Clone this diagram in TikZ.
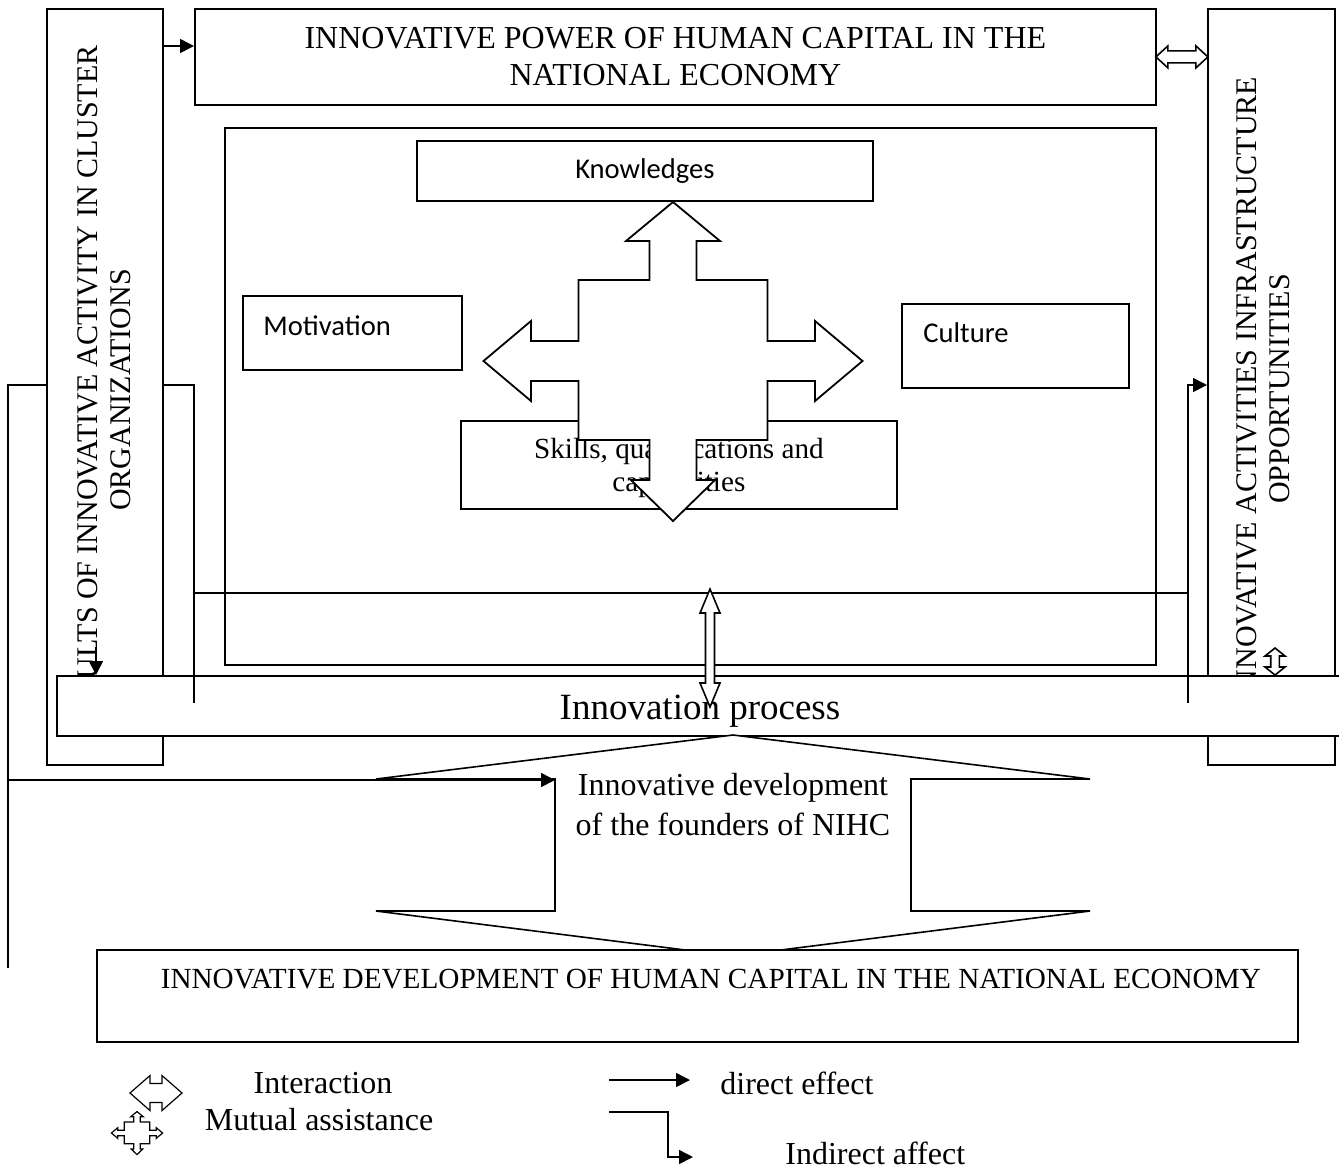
\documentclass[tikz,border=0pt]{standalone}
\usepackage{fontspec}
\setmainfont{Liberation Serif}
\newfontfamily\calibri{Carlito}
\usetikzlibrary{arrows.meta,calc}

\tikzset{
  box/.style={draw, fill=white, line width=0.9pt, inner sep=0pt},
  heading/.style={font=\fontsize{16}{18.5}\selectfont, align=center, inner sep=0pt},
  sidetext/.style={font=\fontsize{15}{16.5}\selectfont, align=center, rotate=90, inner sep=0pt},
  factor/.style={font=\calibri\fontsize{14.3}{17}\selectfont, inner sep=0pt},
  bodytext/.style={font=\fontsize{14.6}{16.5}\selectfont, align=center, inner sep=0pt},
  legendtext/.style={font=\fontsize{16}{19}\selectfont, inner sep=0pt},
  direct/.style={line width=0.8pt, -{Triangle[length=7pt,width=7pt]}},
  link/.style={line width=0.8pt},
  pics/fourway/.style={code={
    \draw[pic actions] (0,-159) -- (47,-120) -- (23.5,-120) -- (23.5,-81) -- (94.5,-81) -- (94.5,-20) -- (142,-20) -- (142,-40) -- (189.5,0) -- (142,40) -- (142,20) -- (94.5,20) -- (94.5,79) -- (23.5,79) -- (23.5,119) -- (42,119) -- (0,160) -- (-42,119) -- (-23.5,119) -- (-23.5,79) -- (-94.5,79) -- (-94.5,20) -- (-142,20) -- (-142,40) -- (-189.5,0) -- (-142,-40) -- (-142,-20) -- (-94.5,-20) -- (-94.5,-81) -- (-23.5,-81) -- (-23.5,-120) -- (-47,-120) -- cycle;
  }},
  pics/dblarr/.style n args={4}{code={
    \draw[pic actions] (-#1,0) -- (-#1+#4,-#2) -- (-#1+#4,-#3) -- (#1-#4,-#3) -- (#1-#4,-#2) -- (#1,0) -- (#1-#4,#2) -- (#1-#4,#3) -- (-#1+#4,#3) -- (-#1+#4,#2) -- cycle;
  }},
}

\begin{document}
\begin{tikzpicture}[x=0.5pt, y=-0.5pt]
  \useasboundingbox (0,0) rectangle (1339,1169);

  \node[box, minimum width=465.5pt, minimum height=268.5pt, anchor=north west] (frame) at (224,127) {};
  \node[box, factor, minimum width=228pt, minimum height=30pt, anchor=north west] (know) at (416,140) {Knowledges};
  \node[box, minimum width=109.5pt, minimum height=37pt, anchor=north west] (motiv) at (242,295) {};
  \node[factor, anchor=west] (motivtext) at ($(motiv.west)+(21,-7)$) {Motivation};
  \node[box, minimum width=113.5pt, minimum height=42pt, anchor=north west] (culture) at (901,303) {};
  \node[factor, anchor=west] (culturetext) at ($(culture.west)+(22,-13)$) {Culture};
  \node[box, minimum width=218pt, minimum height=44pt, anchor=north west] (skills) at (460,420) {};
  \node[bodytext] (skillstext) at ($(skills.center)+(0,3)$) {Skills, qualifications and\\capabilities};
  \pic[link, line width=0.9pt, fill=white] at (673,361) {fourway};

  \node[box, heading, minimum width=480.5pt, minimum height=48pt, anchor=north west] (power) at (194,8) {INNOVATIVE POWER OF HUMAN CAPITAL IN THE\\NATIONAL ECONOMY};
  \node[box, minimum width=58pt, minimum height=378pt, anchor=north west] (results) at (46,8) {};
  \node[sidetext] (resultstext) at (104,390) {RESULTS OF INNOVATIVE ACTIVITY IN CLUSTER\\ORGANIZATIONS};
  \node[box, minimum width=63.5pt, minimum height=378pt, anchor=north west] (infra) at (1207,8) {};
  \node[sidetext] (infratext) at (1263,389) {INNOVATIVE ACTIVITIES INFRASTRUCTURE\\OPPORTUNITIES};

  \draw[direct] ($(results.north east)+(0,38)$) coordinate (r1) -- (r1 -| power.west);
  \pic[link, fill=white] at ($(power.east)!0.5!(power.east -| infra.west)$) {dblarr={26}{11}{6}{12}};

  \node[box, minimum width=647pt, minimum height=30pt, anchor=north west] (process) at (56,675) {};
  \node[font=\fontsize{18.5}{21}\selectfont, inner sep=0pt] (processtext) at (700,711) {Innovation process};

  \coordinate (lefttap) at ($(results.north west)+(0,377)$);
  \coordinate (innertap) at ($(results.north east)+(0,377)$);
  \coordinate (righttap) at ($(infra.north west)+(0,377)$);
  \draw[link] (innertap) -| (194,703);
  \draw[link] (194,593) -- (1188,593);
  \draw[direct] (1188,703) |- (righttap);
  \pic[link, fill=white, rotate=90] at (710,648) {dblarr={59}{10}{4.5}{24}};
  \pic[link, fill=white, rotate=90] at (1275,661.5) {dblarr={13.5}{10}{4.3}{8}};
  \coordinate (c0) at (96,647);
  \draw[direct] (c0) -- (c0 |- process.north);

  \draw[link, fill=white] (733,735) -- (1090,779) -- (911,779) -- (911,911) -- (1090,911) -- (733,956) -- (376,911) -- (555,911) -- (555,780) coordinate (fnw) -- (555,779) -- (376,779) -- cycle;
  \node[heading, font=\fontsize{16}{20}\selectfont] (founders) at (733,805) {Innovative development\\of the founders of NIHC};
  \draw[link] (lefttap) -| (8,968) coordinate (leftend);
  \draw[direct] (leftend |- fnw) -- (fnw);

  \node[box, minimum width=600.5pt, minimum height=46pt, anchor=north west] (devel) at (96,949) {};
  \node[bodytext] (develtext) at ($(devel.center)+(13.5,-17)$) {INNOVATIVE DEVELOPMENT OF HUMAN CAPITAL IN THE NATIONAL ECONOMY};

  \pic[line width=0.6pt] at (156,1093) {dblarr={26}{17.5}{9.5}{20}};
  \pic[line width=0.6pt, scale=0.135] at (137,1133) {fourway};
  \node[legendtext] (interaction) at (323,1083) {Interaction};
  \node[legendtext] (mutual) at (319,1120) {Mutual assistance};
  \node[legendtext, anchor=west] (ldirect) at (720,1083) {direct effect};
  \node[legendtext, anchor=west] (lindirect) at (785,1153) {Indirect affect};
  \draw[direct] ($(ldirect.west)+(-111,-3)$) -- ($(ldirect.west)+(-30,-3)$);
  \draw[direct] ($(ldirect.west)+(-111,29)$) -- ($(ldirect.west)+(-52,29)$) |- ($(lindirect.west)+(-92,4)$);
\end{tikzpicture}
\end{document}
